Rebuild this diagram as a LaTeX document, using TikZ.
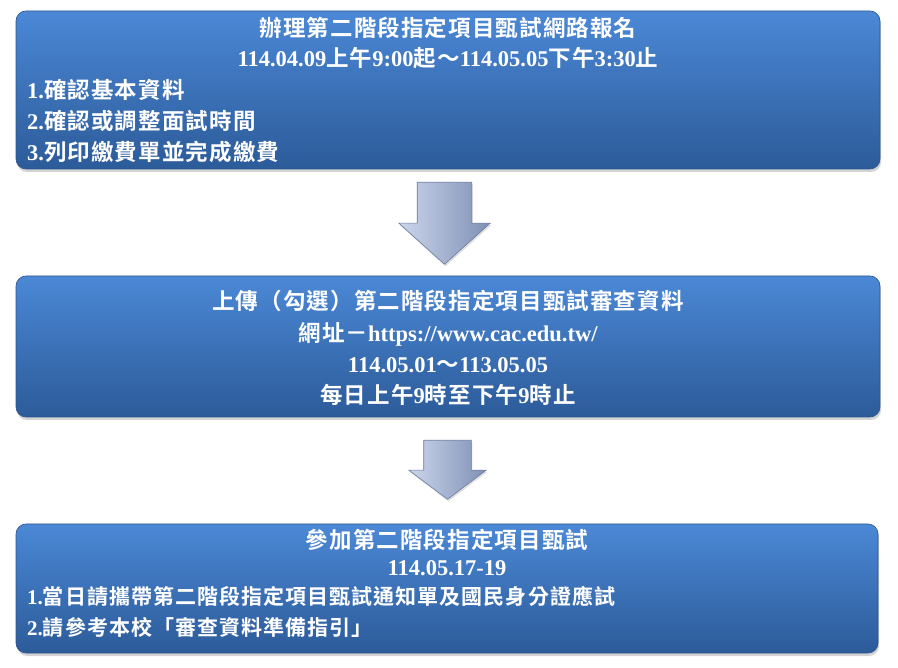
\documentclass[tikz,border=0pt]{standalone}
\usepackage{fontspec}
\setmainfont{Liberation Serif}
\newfontfamily\cjk{Noto Sans CJK TC}[BoldFont = {* Bold}, LetterSpace = 5]
\usepackage{tikz}
\usetikzlibrary{shapes.arrows, shadows}

\definecolor{boxtop}{HTML}{4B88D6}
\definecolor{boxbot}{HTML}{2C5B99}
\definecolor{boxedge}{HTML}{2A558E}
\definecolor{arrowlight}{HTML}{CCD6EC}
\definecolor{arrowdark}{HTML}{7F90B5}
\definecolor{arrowedge}{HTML}{6A7BA0}

\newcommand\zh[1]{{\cjk #1}}

\begin{document}
\begin{tikzpicture}[x = 1pt, y = -1pt,
    stage/.style = { draw = boxedge, line width = .6pt, rounded corners = 10pt,
      top color = boxtop, bottom color = boxbot, minimum width = 864pt,
      drop shadow = {shadow xshift=1pt,shadow yshift=-3pt,opacity=.35} },
    pointer/.style = { draw = arrowedge, line width = .6pt, single arrow,
      shape border rotate = 270, single arrow head indent = 0pt, inner ysep = 0pt,
      anchor = tail, left color = arrowlight, right color = arrowdark,
      drop shadow = {shadow xshift=1pt,shadow yshift=-2pt,opacity=.25} },
    heading/.style = { text = white, anchor = base, inner sep = 0pt,
      font = \bfseries\fontsize{22.5}{27}\selectfont },
    bullet/.style = { heading, anchor = base west },
    small bullet/.style = { bullet, font = \bfseries\fontsize{21}{25}\selectfont }]

    \useasboundingbox (0,0) rectangle (898,668);

    % boxes
    \node [stage, minimum height = 158pt] (signup) at (448,90) {};
    \node [stage, minimum height = 141pt] (upload) at (448,346.5) {};
    \node [stage, minimum height = 129pt, minimum width = 862pt] (exam) at (447,588.5) {};

    % arrows
    \node [pointer, inner xsep = 27pt, minimum height = 82pt,
      single arrow head extend = 18.5pt, single arrow tip angle = 96] (arrow1) at (444.5,182) {};
    \node [pointer, inner xsep = 23.5pt, minimum height = 59pt,
      single arrow head extend = 15pt, single arrow tip angle = 106] (arrow2) at (447.5,440) {};

    % texts
    \node [heading] (signup-title) at (448,37) {\zh{辦理第二階段指定項目甄試網路報名}};
    \node [heading] (signup-date) at (448,67) {114.04.09\zh{上午}9:00\zh{起～}114.05.05\zh{下午}3:30\zh{止}};
    \node [bullet] (signup-1) at (27,99) {1.\zh{確認基本資料}};
    \node [bullet] (signup-2) at (27,130) {2.\zh{確認或調整面試時間}};
    \node [bullet] (signup-3) at (27,161) {3.\zh{列印繳費單並完成繳費}};

    \node [heading] (upload-title) at (448,310) {\zh{上傳（勾選）第二階段指定項目甄試審查資料}};
    \node [heading] (upload-url) at (448,342) {\zh{網址－}https://www.cac.edu.tw/};
    \node [heading] (upload-date) at (448,373) {114.05.01\zh{～}113.05.05};
    \node [heading] (upload-time) at (448,404) {\zh{每日上午}9\zh{時至下午}9\zh{時止}};

    \node [heading] (exam-title) at (447,548) {\zh{參加第二階段指定項目甄試}};
    \node [heading] (exam-date) at (447,575) {114.05.17-19};
    \node [small bullet] (exam-1) at (27,605) {1.\zh{當日請攜帶第二階段指定項目甄試通知單及國民身分證應試}};
    \node [small bullet] (exam-2) at (27,635) {2.\zh{請參考本校「審查資料準備指引」}};

\end{tikzpicture}
\end{document}
